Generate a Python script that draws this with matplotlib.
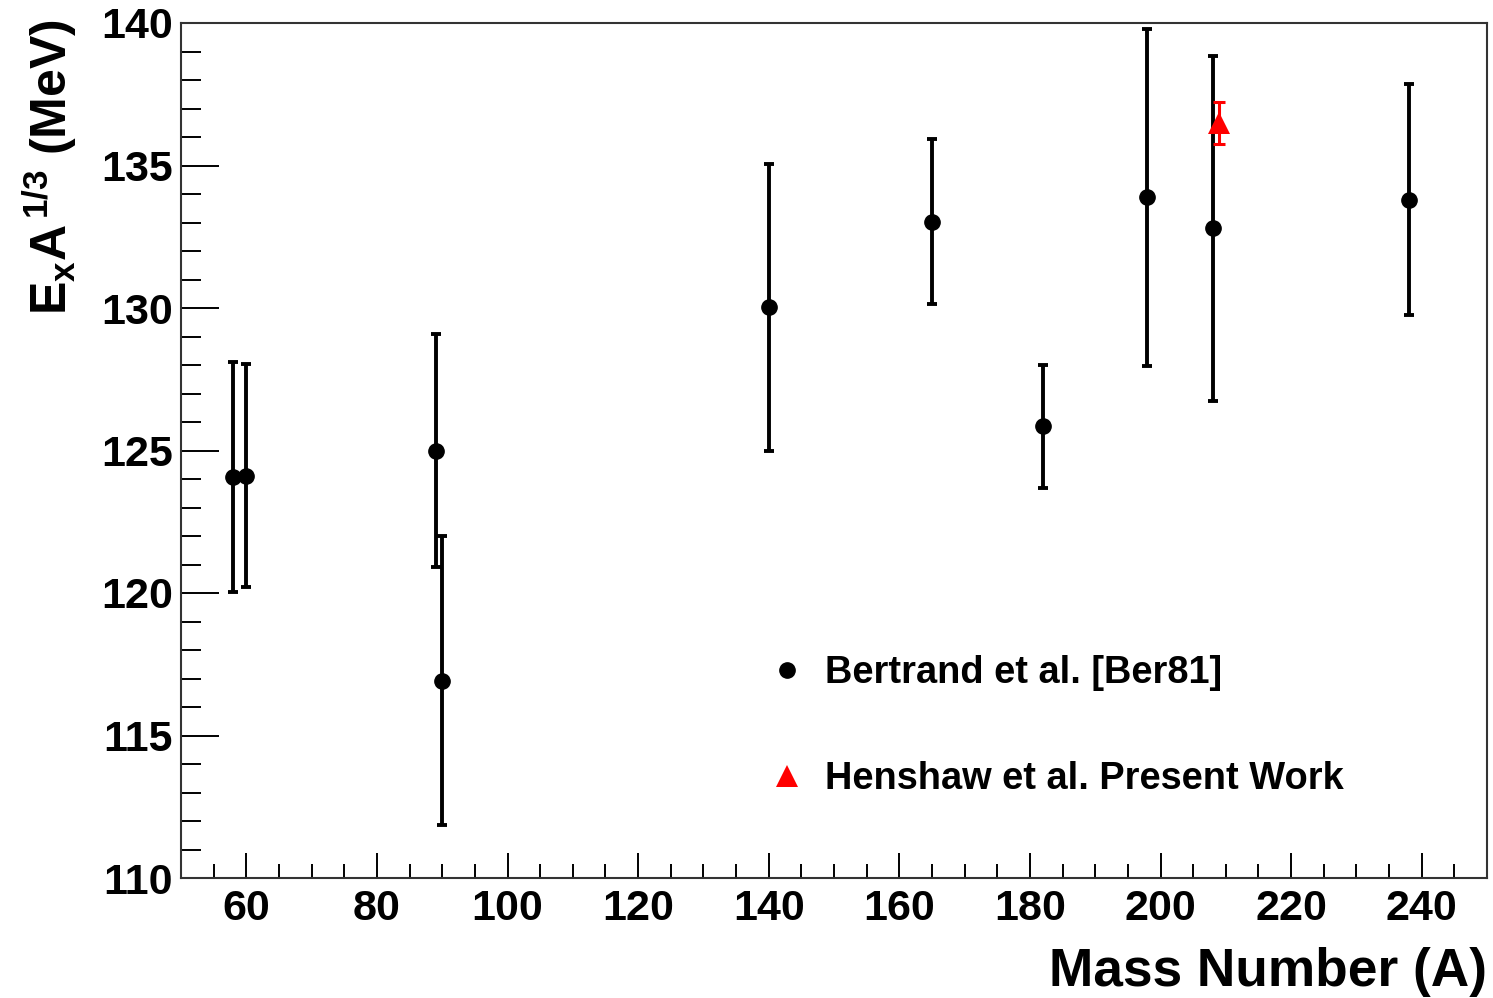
import matplotlib
matplotlib.use('Agg')
import matplotlib.pyplot as plt
from matplotlib.lines import Line2D
from matplotlib.ticker import MultipleLocator

plt.rcParams['font.family'] = 'Liberation Sans'
plt.rcParams['font.weight'] = 'bold'
plt.rcParams['mathtext.fontset'] = 'custom'
plt.rcParams['mathtext.rm'] = 'Liberation Sans:bold'
plt.rcParams['mathtext.bf'] = 'Liberation Sans:bold'
plt.rcParams['mathtext.it'] = 'Liberation Sans:bold'

# Bertrand et al. [Ber81]
mass_ber = [58, 60, 89, 90, 140, 165, 182, 198, 208, 238]
ex_ber = [124.07, 124.12, 125.0, 116.92, 130.02, 133.03, 125.85, 133.88, 132.79, 133.8]
err_ber = [4.03, 3.9, 4.1, 5.07, 5.05, 2.9, 2.15, 5.91, 6.06, 4.06]

# Henshaw et al. Present Work
mass_hen = [209]
ex_hen = [136.5]
err_hen = [0.74]

fig = plt.figure(figsize=(14.93, 9.98), dpi=100)
ax = fig.add_axes([181 / 1493, 1 - 878 / 998, 1306 / 1493, 855 / 998])

ax.errorbar(mass_ber, ex_ber, yerr=err_ber, fmt='o', color='black', ms=11,
            elinewidth=2.8, capsize=3.6, capthick=2.8, zorder=3)
# rote Punkte: Fehlerbalken und Marker getrennt, damit die Kappen sichtbar bleiben
ax.errorbar(mass_hen, ex_hen, yerr=err_hen, fmt='none', ecolor='red',
            elinewidth=2.2, capsize=4.5, capthick=2.2, zorder=4)
ax.plot(mass_hen, ex_hen, '^', color='red', ms=16, mew=0, zorder=5)

ax.set_xlim(50, 250)
ax.set_ylim(110, 140)

ax.xaxis.set_major_locator(MultipleLocator(20))
ax.xaxis.set_minor_locator(MultipleLocator(5))
ax.yaxis.set_major_locator(MultipleLocator(5))
ax.yaxis.set_minor_locator(MultipleLocator(1))

ax.tick_params(axis='both', which='both', direction='in', top=False, right=False,
               width=1.4, labelsize=31, colors='black')
ax.tick_params(axis='x', which='major', length=18, pad=8)
ax.tick_params(axis='x', which='minor', length=10)
ax.tick_params(axis='y', which='major', length=27, pad=6)
ax.tick_params(axis='y', which='minor', length=14.5)
for lab in ax.get_xticklabels() + ax.get_yticklabels():
    lab.set_fontweight('bold')

for side in ['left', 'bottom', 'top', 'right']:
    ax.spines[side].set_linewidth(1.5)
    ax.spines[side].set_color('#333333')

ax.set_xlabel('Mass Number (A)', fontsize=38.3, fontweight='bold', loc='right')
ax.xaxis.set_label_coords(1.0, -0.081)
ax.set_ylabel(r'$\mathrm{E_{x}A}^{\,\mathrm{1/3}}$ (MeV)', fontsize=36,
              fontweight='bold', loc='top')
ax.yaxis.set_label_coords(-0.077, 1.005)

handles = [Line2D([], [], marker='o', color='black', ls='none', ms=11),
           Line2D([], [], marker='^', color='red', ls='none', ms=16, mew=0)]
labels = ['Bertrand et al. [Ber81]', 'Henshaw et al. Present Work']
ax.legend(handles, labels, loc='upper left', frameon=False,
          bbox_to_anchor=(768 / 1493, 1 - 655 / 998), bbox_transform=fig.transFigure,
          borderpad=0, borderaxespad=0, handlelength=1.0, handletextpad=0.5,
          labelspacing=1.85, prop={'size': 27.4, 'weight': 'bold'})

fig.savefig('out.png', dpi=100)
